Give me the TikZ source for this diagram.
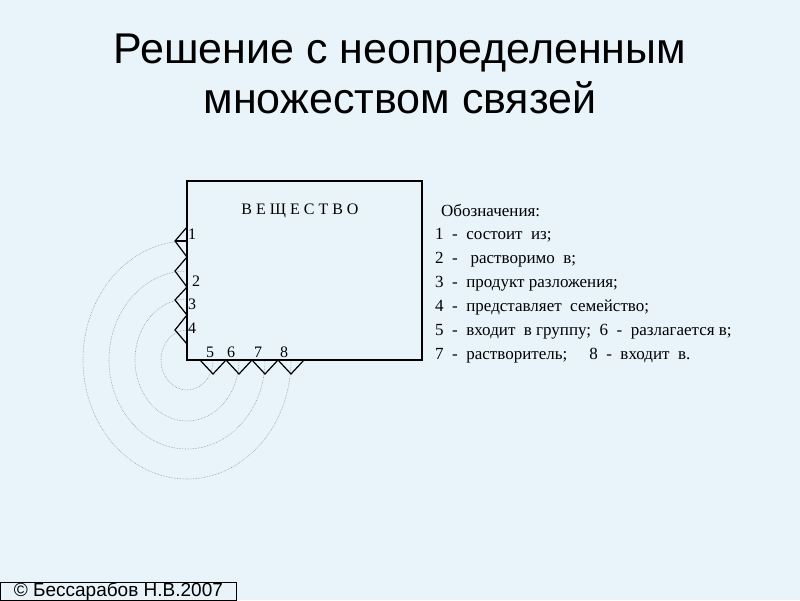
\documentclass[tikz,border=0pt]{standalone}
\usepackage{fontspec}
\setmainfont{Liberation Serif}
\newfontfamily\titlefont{Liberation Sans}
\begin{document}
\begin{tikzpicture}[x=1pt,y=-1pt,
  tri/.style={draw=black,line width=1.2pt,line join=miter},
  arcl/.style={draw=gray!80,densely dotted,line width=0.6pt},
  leg/.style={anchor=base west,inner sep=0,font=\fontsize{17}{17}\selectfont},
  num/.style={anchor=base west,inner sep=0,font=\fontsize{16}{16}\selectfont}]
\useasboundingbox[fill={rgb,255:red,232;green,244;blue,250}] (0,0) rectangle (800,600);
\node[font=\titlefont\fontsize{43}{50}\selectfont,align=center,anchor=north] (title) at (400,30) {Решение с неопределенным\\множеством связей};
% arcs
\foreach \ry/\rx in {119/104,89/78,61/52,30/26}{
  \draw[arcl] (187,360-\ry) arc[start angle=270,end angle=0,x radius=\rx,y radius=\ry];
}
% box
\draw[line width=1.2pt] (187,181) rectangle (422,360);
% left triangles
\draw[tri] (187,227) -- (175,241) -- (187,257) -- (175,271) -- (187,287) -- (175,300) -- (187,315) -- (175,330) -- (187,344);
\draw[line width=1.2pt] (175,241) -- (187,241);
% bottom triangles
\draw[tri] (200,360) -- (213,374) -- (226,360) -- (239,374) -- (252,360) -- (265,374) -- (278,360) -- (291,374) -- (304,360);
% labels
\node[anchor=base,inner sep=0,font=\fontsize{16}{16}\selectfont] (t) at (300,214) {В Е Щ Е С Т В О};
\node[num] (n1) at (188,239) {1};
\node[num] (n2) at (192,286) {2};
\node[num] (n3) at (188,309) {3};
\node[num] (n4) at (188,333) {4};
\node[num] (n5) at (206,357) {5};
\node[num] (n6) at (227,357) {6};
\node[num] (n7) at (254,357) {7};
\node[num] (n8) at (280,357) {8};
% legend
\node[leg] (l0) at (441,216) {Обозначения:};
\node[leg] (l1) at (435,239) {1\ \ -\ \ состоит\ \ из;};
\node[leg] (l2) at (435,263) {2\ \ -\ \ \ растворимо\ \ в;};
\node[leg] (l3) at (435,287) {3\ \ -\ \ продукт разложения;};
\node[leg] (l4) at (435,311) {4\ \ -\ \ представляет\ \ семейство;};
\node[leg] (l5) at (435,335) {5\ \ -\ \ входит\ \ в группу;\ \ 6\ \ -\ \ разлагается в;};
\node[leg] (l7) at (435,359) {7\ \ -\ \ растворитель;\hspace{22pt}8\ \ -\ \ входит\ \ в.};
% footer
\node[draw=black,line width=0.8pt,anchor=south west,inner xsep=6pt,inner ysep=0pt,minimum width=236pt,minimum height=16pt,font=\titlefont\fontsize{19}{19}\selectfont] (foot) at (0,600.5) {© Бессарабов Н.В.2007};
\end{tikzpicture}
\end{document}
